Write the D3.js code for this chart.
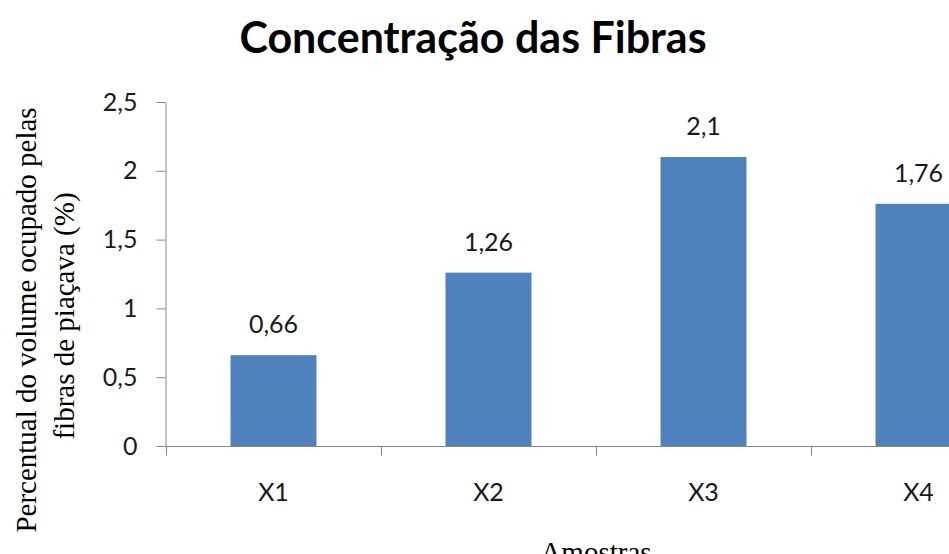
<!DOCTYPE html>
<html>
<head>
<meta charset="utf-8">
<script src="https://cdn.jsdelivr.net/npm/d3@7"></script>
<style>
  html, body { margin: 0; padding: 0; background: #fff; overflow: hidden; }
  svg { display: block; }
</style>
</head>
<body>
<svg id="chart" width="949" height="554"></svg>
<script>
const categories = ["X1", "X2", "X3", "X4"];
const values = [0.66, 1.26, 2.1, 1.76];
const yTicks = [0, 0.5, 1, 1.5, 2, 2.5];
const title = "Concentração das Fibras";
const yLabelLines = ["Percentual do volume ocupado pelas", "fibras de piaçava (%)"];
const xLabel = "Amostras";

const svg = d3.select("#chart");
const W = 949, H = 554;
const plot = { left: 166, right: 1026, top: 102, bottom: 446 };
const fmt = v => String(v).replace(".", ",");
const sans = "Lato, 'Open Sans', sans-serif";
const serif = "'Liberation Serif', 'DejaVu Serif', serif";
const axisColor = "#868686";

const x = d3.scaleBand().domain(categories).range([plot.left, plot.right])
  .paddingInner(0.6).paddingOuter(0.3);
const y = d3.scaleLinear().domain([0, 2.5]).range([plot.bottom, plot.top]);
const step = x.step();
const boundary = c => x(c) - step * x.paddingOuter();

// bars
svg.append("g").selectAll("rect").data(categories).join("rect")
  .attr("x", c => x(c))
  .attr("y", (c, i) => y(values[i]))
  .attr("width", x.bandwidth())
  .attr("height", (c, i) => y(0) - y(values[i]))
  .attr("fill", "#4F81BD");

// y axis
const yAxis = svg.append("g").attr("transform", `translate(${plot.left - 0.5},0)`)
  .call(d3.axisLeft(y).tickValues(yTicks).tickFormat(fmt).tickSize(9).tickPadding(19).tickSizeOuter(0));
yAxis.select(".domain").attr("stroke", axisColor);
yAxis.selectAll(".tick line").attr("stroke", axisColor);
yAxis.selectAll(".tick text").attr("font-family", sans).attr("font-size", 25).attr("fill", "#1a1a1a");

// x axis line
const xAxisG = svg.append("g").attr("transform", `translate(0,${y(0) + 0.5})`);
xAxisG.append("line").attr("x1", plot.left - 9).attr("x2", plot.right).attr("stroke", axisColor);
xAxisG.selectAll("line.tk").data(categories.concat(["end"])).join("line").attr("class", "tk")
  .attr("x1", (c, i) => Math.round(plot.left + i * step) + 0.5)
  .attr("x2", (c, i) => Math.round(plot.left + i * step) + 0.5)
  .attr("y1", 0).attr("y2", 9).attr("stroke", axisColor);
xAxisG.selectAll("text").data(categories).join("text")
  .attr("x", c => x(c) + x.bandwidth() / 2)
  .attr("y", 54)
  .attr("text-anchor", "middle")
  .attr("font-family", sans).attr("font-size", 25).attr("fill", "#1a1a1a")
  .text(c => c);

// value labels
svg.append("g").selectAll("text").data(categories).join("text")
  .attr("x", c => x(c) + x.bandwidth() / 2)
  .attr("y", (c, i) => y(values[i]) - 22)
  .attr("text-anchor", "middle")
  .attr("font-family", sans).attr("font-size", 25).attr("fill", "#1a1a1a")
  .text((c, i) => fmt(values[i]));

// title
svg.append("text").attr("x", 473).attr("y", 53).attr("text-anchor", "middle")
  .attr("font-family", sans).attr("font-weight", "bold").attr("font-size", 43)
  .attr("fill", "#000").text(title);

// y label
const yl = svg.append("g");
yl.append("text").attr("transform", "translate(36,320) rotate(-90)")
  .attr("text-anchor", "middle").attr("font-family", serif).attr("font-size", 29)
  .attr("fill", "#000").text(yLabelLines[0]);
yl.append("text").attr("transform", "translate(74,316) rotate(-90)")
  .attr("text-anchor", "middle").attr("font-family", serif).attr("font-size", 29)
  .attr("fill", "#000").text(yLabelLines[1]);

// x label
svg.append("text").attr("x", (plot.left + plot.right) / 2).attr("y", 562)
  .attr("text-anchor", "middle").attr("font-family", serif).attr("font-size", 29)
  .attr("fill", "#000").text(xLabel);
</script>
</body>
</html>
